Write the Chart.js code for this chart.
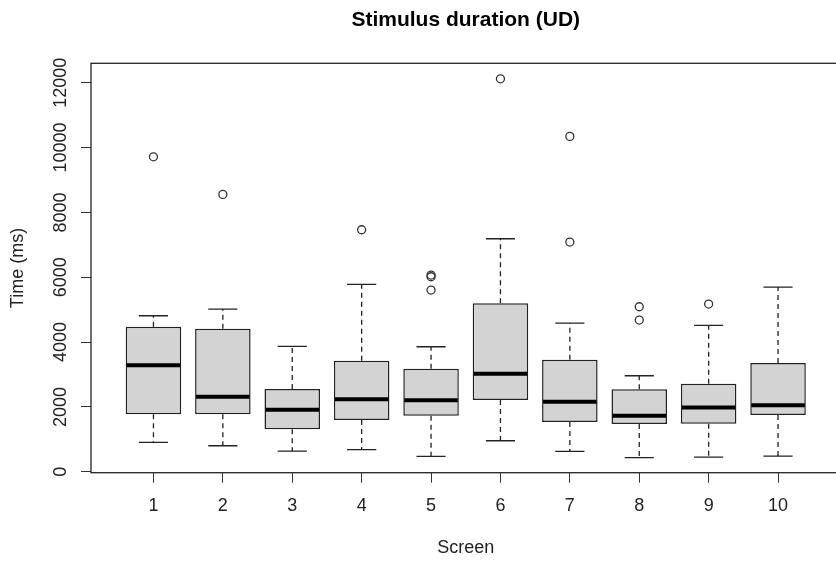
<!DOCTYPE html>
<html>
<head>
<meta charset="utf-8">
<script src="https://cdn.jsdelivr.net/npm/chart.js@4/dist/chart.umd.min.js"></script>
<style>
  html, body { margin: 0; padding: 0; background: #fff; overflow: hidden; }
  #wrap { width: 850px; height: 561px; position: relative; }
</style>
</head>
<body>
<div id="wrap"><canvas id="box"></canvas></div>
<script>
// values
const screens = ['1', '2', '3', '4', '5', '6', '7', '8', '9', '10'];
const whiskerLow  = [907, 802, 638, 679, 475, 956, 629, 432, 453, 484];
const q1          = [1770, 1770, 1307, 1595, 1727, 2212, 1533, 1471, 1481, 1749];
const medians     = [3282, 2313, 1913, 2233, 2202, 3023, 2159, 1727, 1985, 2048];
const q3          = [4473, 4411, 2551, 3424, 3177, 5194, 3455, 2541, 2714, 3353];
const whiskerHigh = [4812, 5019, 3868, 5780, 3856, 7187, 4587, 2961, 4515, 5697];
const outlierScreens = [1, 2, 4, 5, 5, 5, 6, 7, 7, 8, 8, 9];
const outlierValues  = [9716, 8556, 7465, 6067, 6015, 5605, 12122, 10345, 7085, 5090, 4679, 5173];
const yTicks = [0, 2000, 4000, 6000, 8000, 10000, 12000];

const FONT = '"Liberation Sans", Arial, sans-serif';
const INK = '#222';

// whiskers, caps, medians, plot frame and rotated y labels
const boxExtras = {
  id: 'boxExtras',
  afterDatasetsDraw(chart) {
    const {ctx, chartArea} = chart;
    const xs = chart.scales.x, ys = chart.scales.y;
    const unit = xs.getPixelForValue(2) - xs.getPixelForValue(1);
    const half = unit * 0.4, cap = unit * 0.21;
    ctx.save();
    ctx.strokeStyle = INK;
    screens.forEach((s, i) => {
      const x = xs.getPixelForValue(i + 1);
      // dashed whiskers
      ctx.lineWidth = 1.3;
      ctx.setLineDash([5, 4]);
      ctx.beginPath();
      ctx.moveTo(x, ys.getPixelForValue(q3[i]));
      ctx.lineTo(x, ys.getPixelForValue(whiskerHigh[i]));
      ctx.moveTo(x, ys.getPixelForValue(q1[i]));
      ctx.lineTo(x, ys.getPixelForValue(whiskerLow[i]));
      ctx.stroke();
      // staples
      ctx.setLineDash([]);
      ctx.beginPath();
      ctx.moveTo(x - cap, ys.getPixelForValue(whiskerHigh[i]));
      ctx.lineTo(x + cap, ys.getPixelForValue(whiskerHigh[i]));
      ctx.moveTo(x - cap, ys.getPixelForValue(whiskerLow[i]));
      ctx.lineTo(x + cap, ys.getPixelForValue(whiskerLow[i]));
      ctx.stroke();
      // median
      ctx.lineWidth = 4;
      ctx.strokeStyle = '#000';
      ctx.beginPath();
      ctx.moveTo(x - half + 1, ys.getPixelForValue(medians[i]));
      ctx.lineTo(x + half - 1, ys.getPixelForValue(medians[i]));
      ctx.stroke();
      ctx.strokeStyle = INK;
    });
    // frame round the plot region
    ctx.lineWidth = 1.3;
    ctx.strokeRect(chartArea.left, chartArea.top, chartArea.right - chartArea.left, chartArea.bottom - chartArea.top);
    ctx.restore();
  },
  afterDraw(chart) {
    const {ctx} = chart;
    const ys = chart.scales.y;
    ctx.save();
    ctx.fillStyle = INK;
    ctx.font = '18px ' + FONT;
    ctx.textAlign = 'center';
    ctx.textBaseline = 'middle';
    yTicks.forEach(v => {
      ctx.save();
      ctx.translate(61, ys.getPixelForValue(v));
      ctx.rotate(-Math.PI / 2);
      ctx.fillText(String(v), 0, 0);
      ctx.restore();
    });
    ctx.restore();
  }
};

const ctx = document.getElementById('box').getContext('2d');
new Chart(ctx, {
  type: 'bar',
  data: {
    datasets: [{
      type: 'bar',
      data: screens.map((s, i) => ({x: i + 1, y: [q1[i], q3[i]]})),
      backgroundColor: '#d3d3d3',
      borderColor: INK,
      borderWidth: 1.5,
      borderSkipped: false,
      categoryPercentage: 1,
      barPercentage: 0.8
    }, {
      type: 'scatter',
      data: outlierValues.map((v, i) => ({x: outlierScreens[i], y: v})),
      pointStyle: 'circle',
      pointRadius: 4,
      pointBackgroundColor: 'rgba(0,0,0,0)',
      pointBorderColor: '#333',
      pointBorderWidth: 1.3
    }]
  },
  options: {
    responsive: true,
    maintainAspectRatio: false,
    animation: false,
    layout: { padding: { left: 0, right: 9.5, top: 0, bottom: 0 } },
    plugins: {
      legend: { display: false },
      tooltip: { enabled: false },
      title: {
        display: true,
        fullSize: false,
        text: 'Stimulus duration (UD)',
        color: '#000',
        font: { family: FONT, size: 21, weight: 'bold' },
        padding: { top: 7.4, bottom: 30.7 }
      }
    },
    scales: {
      x: {
        type: 'linear',
        min: 0.1,
        max: 10.9,
        offset: false,
        afterFit: s => { s.height = 88.3; },
        afterBuildTicks: s => { s.ticks = screens.map((t, i) => ({value: i + 1})); },
        border: { display: false },
        grid: { offset: false, drawOnChartArea: false, drawTicks: true, tickLength: 10, color: '#333', lineWidth: 1 },
        ticks: {
          color: INK,
          padding: 13,
          maxRotation: 0,
          font: { family: FONT, size: 18 },
          callback: v => screens[v - 1]
        },
        title: {
          display: true,
          text: 'Screen',
          color: INK,
          font: { family: FONT, size: 18 },
          padding: { top: 0, bottom: 2.2 }
        }
      },
      y: {
        min: -30,
        max: 12600,
        afterFit: s => { s.width = 91; },
        afterBuildTicks: s => { s.ticks = yTicks.map(v => ({value: v})); },
        border: { display: false },
        grid: { drawOnChartArea: false, drawTicks: true, tickLength: 10, color: '#333', lineWidth: 1 },
        ticks: { display: false },
        title: {
          display: true,
          text: 'Time (ms)',
          color: INK,
          font: { family: FONT, size: 18 },
          padding: { top: 7, bottom: 0 }
        }
      }
    }
  },
  plugins: [boxExtras]
});
</script>
</body>
</html>
